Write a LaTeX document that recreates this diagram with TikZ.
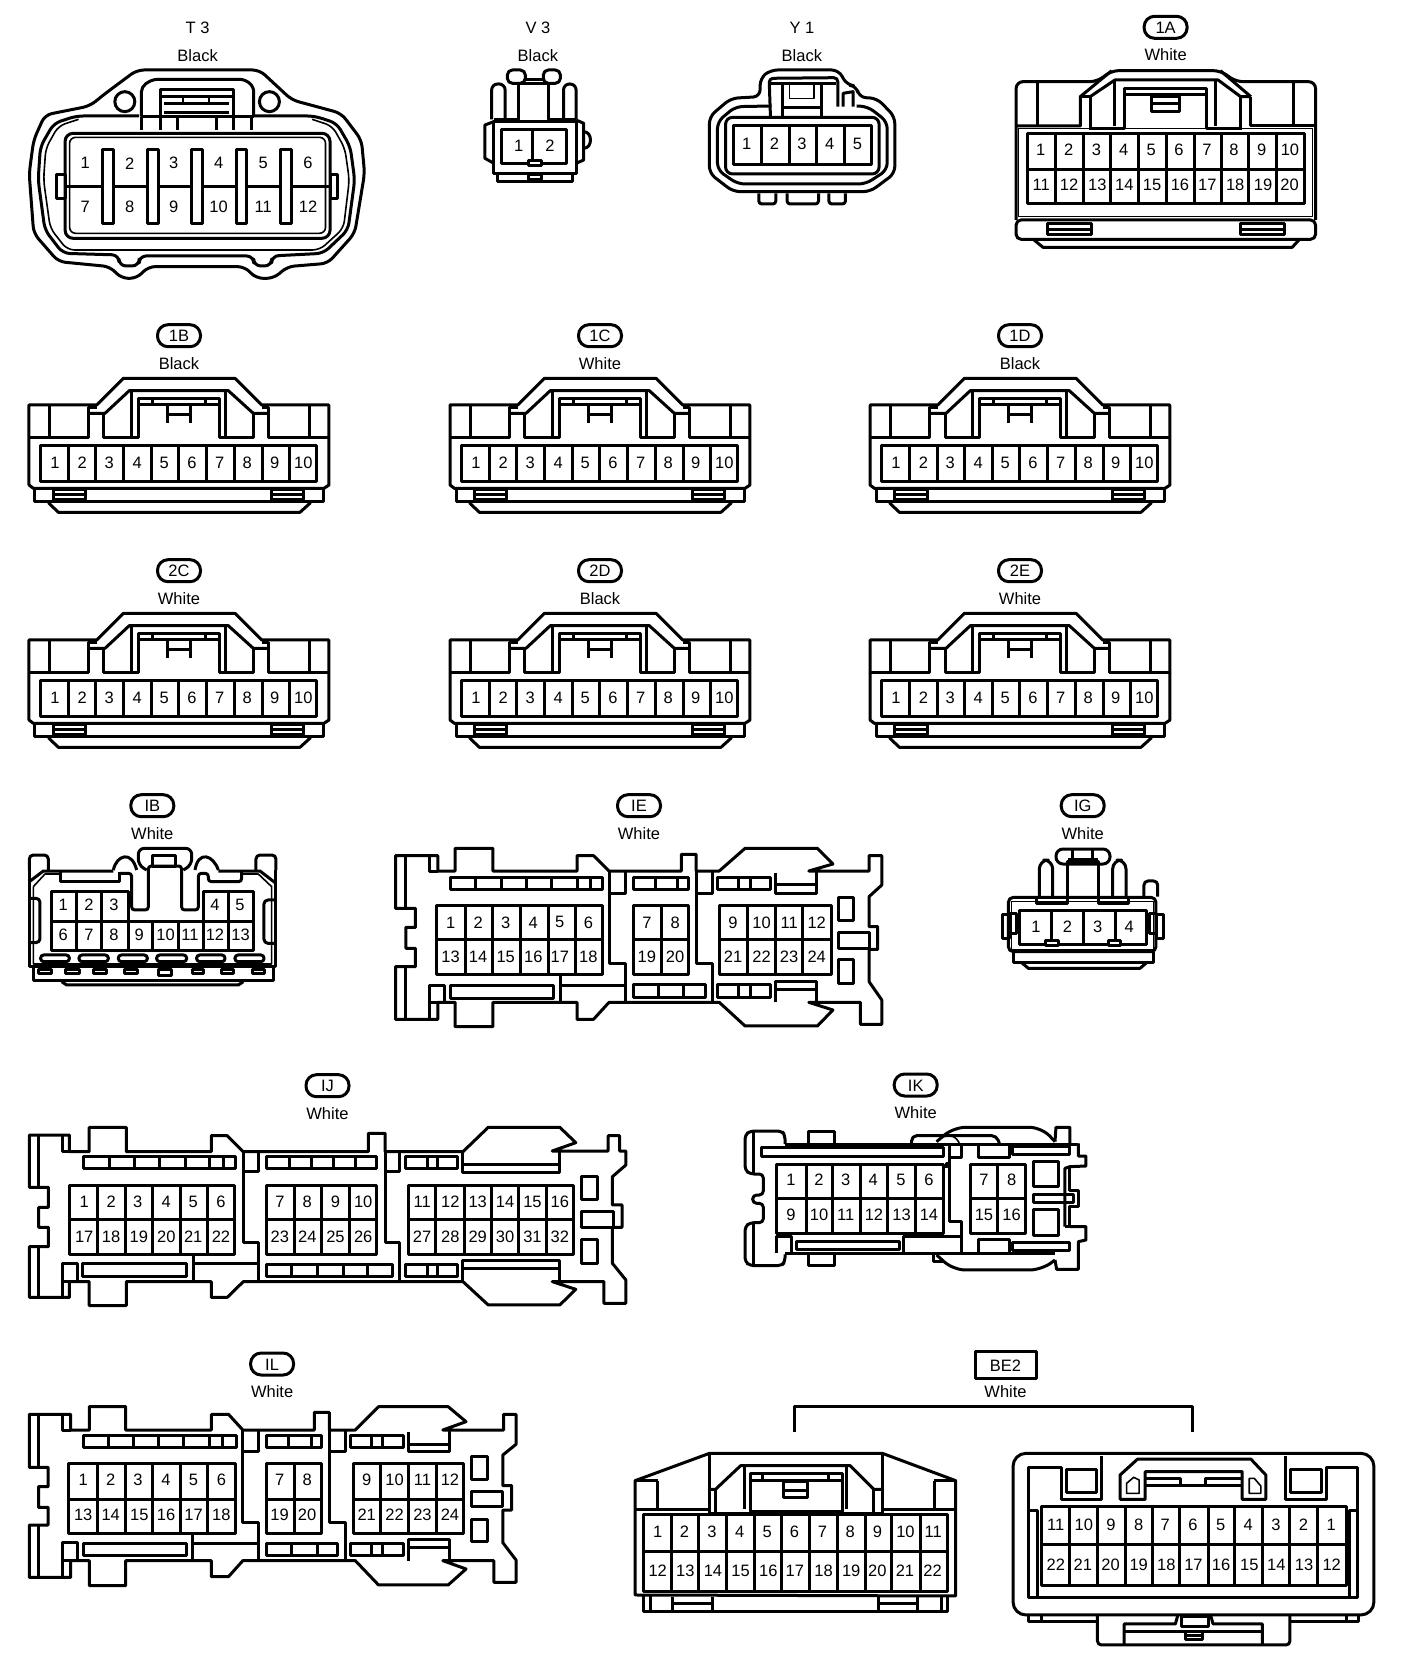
\documentclass[tikz,border=0pt]{standalone}
\usepackage{fontspec}
\setmainfont{Liberation Sans}
\usetikzlibrary{positioning}
\tikzset{
	zoomed/.style n args={3}{shift={(#1,#2)},x=#3,y=-0.3333pt},
	thinline/.style={line width=1.6pt},
	pinnum/.style={font=\fontsize{16.5}{18}\selectfont,inner sep=0pt},
	plainlabel/.style={font=\fontsize{16.5}{18}\selectfont,inner sep=0pt,outer sep=0pt,text height=12pt,text depth=0pt},
	pill/.style={draw,plainlabel,rounded corners=10.5pt,minimum width=43pt,minimum height=22pt},
	boxlabel/.style={draw,plainlabel,minimum width=61pt,minimum height=27pt},
}
\newcommand{\pinrow}[4]{\foreach \px [count=\k from #3] in {#4} \node[pinnum] (#1-\k) at (\px,#2) {\k};}
\newcommand{\cellbox}[5]{\draw (#1,#2) rectangle (#3,#4); \foreach \dv in {#5} \draw (\dv,#2) -- (\dv,#4);}
\newcommand{\pilllabel}[5]{\node[pill] (#1) at (#2,#3) {#4}; \node[plainlabel,below=10.6pt of #1] (#1-col) {#5};}
\newcommand{\textlabel}[5]{\node[plainlabel] (#1) at (#2,#3) {#4}; \node[plainlabel,below=15.6pt of #1] (#1-col) {#5};}
\newcommand{\tenpin}[5]{
	\pilllabel{#3}{#1+179}{#2+335.7}{#4}{#5}
	\begin{scope}[zoomed={#1}{#2+320}{0.3333pt}]
		\draw (87,255) -- (290,255) -- (370,175) -- (705,175) -- (785,255) -- (987,255) -- (987,495) -- (972,505) -- (100,505) -- (87,495) -- cycle;
		\draw (105,505) -- (105,545) -- (970,545) -- (970,505);
		\draw (145,548) -- (175,577) -- (900,577) -- (932,548);
		\cellbox{160}{510}{258}{540}{160}
		\draw (160,525) -- (258,525);
		\cellbox{815}{510}{912}{540}{815}
		\draw (815,525) -- (912,525);
		\draw (87,352) -- (265,352) -- (265,262) -- (290,262);
		\draw (148,258) -- (148,352);
		\draw (268,280) -- (315,280) -- (388,212) -- (685,212) -- (760,280) -- (805,280);
		\draw (312,280) -- (312,352) -- (415,352) -- (415,235) -- (660,235) -- (660,352) -- (760,352) -- (760,280);
		\draw (395,212) -- (395,352);
		\draw (678,212) -- (678,352);
		\draw (415,253) -- (660,253);
		\draw (458,235) -- (458,253);
		\draw (618,235) -- (618,253);
		\draw (502,308) -- (502,255);
		\draw (572,308) -- (572,255);
		\draw (502,285) -- (572,285);
		\draw (785,262) -- (805,262) -- (805,352) -- (987,352);
		\draw (928,258) -- (928,352);
		\cellbox{122}{378}{950}{485}{205,288,370,455,537,620,703,787,870}
		\pinrow{#3}{428}{1}{165,247,328,412,493,576,659,742,824,910}
	\end{scope}
}
\begin{document}
\begin{tikzpicture}[x=1pt,y=-1pt,line width=3pt,line join=round]
	\useasboundingbox (0,0) rectangle (1408,1680);

	\textlabel{T3}{197.6}{28}{T 3}{Black}
	\textlabel{V3}{537.9}{28}{V 3}{Black}
	\textlabel{Y1}{801.9}{28}{Y 1}{Black}
	\pilllabel{1A}{1165.6}{27.3}{1A}{White}

	\begin{scope}[zoomed={0}{0}{0.449pt}]
		\draw[rounded corners=7pt] (305,210) -- (578,210) -- (650,300) -- (700,318) -- (760,340) -- (805,420) -- (812,520) -- (790,700) -- (730,790) -- (640,800) -- (610,835) -- (570,835) -- (545,800) -- (330,800) -- (305,835) -- (270,835) -- (245,800) -- (130,785) -- (75,700) -- (65,520) -- (75,420) -- (100,345) -- (200,318) -- (235,280) -- cycle;
		\draw[rounded corners=7pt] (310,348) -- (170,348) -- (120,370) -- (90,440) -- (85,540) -- (100,690) -- (140,760) -- (265,765) -- (265,798) -- (310,798) -- (310,768) -- (565,768) -- (565,798) -- (605,798) -- (605,768) -- (720,760) -- (775,690) -- (790,540) -- (780,440) -- (750,370) -- (700,348) -- (562,348);
		\draw[thinline,rounded corners=7pt] (175,358) -- (130,378) -- (102,445) -- (97,540) -- (112,685) -- (150,750) -- (712,750) -- (765,685) -- (778,540) -- (768,445) -- (740,378) -- (695,358);
		\draw[rounded corners=8pt] (145,400) rectangle (735,715);
		\draw[thinline,rounded corners=6pt] (155,412) rectangle (725,700);
		\draw (148,560) -- (735,560);
		\foreach \bx in {240,340,438,538,637} \draw[fill=white] (\bx-12,448) rectangle (\bx+12,672);
		\draw (125,525) rectangle (145,595);
		\draw (735,525) rectangle (752,595);
		\draw (278,305) circle[radius=10pt];
		\draw (600,305) circle[radius=10pt];
		\draw[rounded corners=5pt] (315,350) -- (315,260) -- (340,238) -- (545,238) -- (565,260) -- (565,350);
		\draw (358,350) -- (358,268) -- (520,268) -- (520,350);
		\draw (358,290) -- (520,290);
		\draw (365,312) -- (510,312);
		\draw (365,338) -- (510,338);
		\draw[thinline] (408,292) -- (408,310);
		\draw[thinline] (465,292) -- (465,310);
		\draw (315,350) -- (565,350);
		\foreach \bx in {315,358,395,482,520,560} \draw (\bx,350) -- (\bx,390);
		\pinrow{t3}{490}{1}{190,289,387,487,586,686}
		\pinrow{t3}{620}{7}{190,289,387,487,586,686}

		\draw (1100,365) rectangle (1283,520);
		\cellbox{1117}{390}{1262}{492}{1187}
		\draw (1100,365) -- (1080,375) -- (1080,475) -- (1100,490);
		\draw (1283,360) -- (1300,370) -- (1300,480) -- (1283,490);
		\draw (1300,395) .. controls (1320,395) and (1320,445) .. (1300,445);
		\draw[fill=white] (1178,482) rectangle (1205,498);
		\draw (1108,520) -- (1108,545) -- (1275,545) -- (1275,520);
		\draw (1178,525) rectangle (1205,540);
		\draw[rounded corners=6pt] (1095,358) -- (1095,252) -- (1125,252) -- (1125,358);
		\draw[rounded corners=6pt] (1255,358) -- (1255,252) -- (1283,252) -- (1283,358);
		\draw (1100,360) -- (1155,360) -- (1155,250) -- (1222,250) -- (1222,360) -- (1283,360);
		\draw[rounded corners=5pt] (1130,210) rectangle (1170,250);
		\draw[rounded corners=5pt] (1210,210) rectangle (1248,250);
		\draw (1170,240) -- (1210,240);
		\pinrow{v3}{438}{1}{1155,1225}
	\end{scope}

	\begin{scope}[zoomed={704}{0}{0.449pt}]
		\draw[rounded corners=7pt] (125,290) -- (125,235) -- (148,210) -- (300,210) -- (318,255) -- (340,258) -- (345,292) -- (385,295) -- (425,350) -- (425,520) -- (370,575) -- (65,575) -- (12,520) -- (12,350) -- (60,295) -- cycle;
		\draw[rounded corners=7pt] (150,318) -- (70,320) -- (30,365) -- (30,510) -- (75,552) -- (360,552) -- (408,510) -- (408,365) -- (365,320) -- (340,318);
		\draw[rounded corners=7pt] (48,352) rectangle (390,522);
		\cellbox{65}{378}{372}{495}{128,190,250,312}
		\draw[rounded corners=4pt] (148,350) -- (145,235) -- (298,233) -- (298,320);
		\draw (150,252) -- (295,252);
		\draw (175,252) -- (175,350);
		\draw (262,252) -- (262,350);
		\draw[thinline] (190,255) -- (190,295) -- (245,295) -- (245,255);
		\draw (175,322) -- (262,322);
		\draw (310,320) -- (310,280) -- (332,275) -- (332,320);
		\draw[rounded corners=3pt] (122,580) -- (122,612) -- (160,612) -- (160,580);
		\draw[rounded corners=3pt] (185,580) -- (185,612) -- (255,612) -- (255,580);
		\draw[rounded corners=3pt] (278,580) -- (278,612) -- (315,612) -- (315,580);
		\pinrow{y1}{432}{1}{95,157,218,280,342}

		\draw[rounded corners=7pt] (695,660) -- (695,245) -- (875,245) -- (908,212) -- (1150,212) -- (1185,245) -- (1362,245) -- (1362,660);
		\draw[rounded corners=5pt] (695,660) rectangle (1362,718);
		\draw[thinline] (700,385) rectangle (1355,650);
		\draw (695,378) -- (838,378) -- (838,290) -- (908,212);
		\draw (860,390) -- (860,290) -- (838,290);
		\draw (860,290) -- (915,240) -- (1145,240) -- (1195,290) -- (1218,290);
		\draw (1195,290) -- (1195,390);
		\draw (1218,290) -- (1150,212);
		\draw (1218,290) -- (1218,378) -- (1362,378);
		\draw (862,385) -- (937,385) -- (937,265) -- (1120,265) -- (1120,385) -- (1195,385);
		\draw (915,240) -- (915,378);
		\draw (1140,240) -- (1140,378);
		\draw (937,285) -- (1120,285);
		\draw[fill=white] (997,290) rectangle (1060,335);
		\draw (997,312) -- (1060,312);
		\draw (742,250) -- (742,375);
		\draw (1313,250) -- (1313,375);
		\cellbox{720}{400}{1337}{612}{783,845,905,968,1030,1092,1152,1213,1275}
		\draw (720,508) -- (1337,508);
		\pinrow{1a}{450}{1}{750,812,874,935,996,1058,1120,1180,1242,1305}
		\pinrow{1a}{555}{11}{751,813,876,936,998,1060,1121,1183,1245,1304}
		\draw (765,670) rectangle (862,705);
		\draw (765,690) -- (862,690);
		\draw (1195,670) rectangle (1292,705);
		\draw (1195,690) -- (1292,690);
		\draw (735,720) -- (755,742) -- (1310,742) -- (1325,720);
	\end{scope}

	\tenpin{0}{0}{1B}{1B}{Black}
	\tenpin{421}{0}{1C}{1C}{White}
	\tenpin{841}{0}{1D}{1D}{Black}
	\tenpin{0}{235}{2C}{2C}{White}
	\tenpin{421}{235}{2D}{2D}{Black}
	\tenpin{841}{235}{2E}{2E}{White}

	\pilllabel{IB}{152.3}{805.7}{IB}{White}
	\begin{scope}[zoomed={0}{790}{0.3333pt}]
		\draw[rounded corners=4pt] (88,240) -- (88,195) -- (145,195) -- (145,240);
		\draw[rounded corners=4pt] (768,240) -- (768,195) -- (828,195) -- (828,240);
		\draw (88,240) -- (88,530) -- (828,530) -- (828,240);
		\draw (88,275) -- (130,243) -- (340,243);
		\draw (655,243) -- (780,243) -- (828,280);
		\draw[thinline] (100,290) -- (135,252) -- (182,252);
		\draw[thinline] (725,252) -- (775,252) -- (815,290) -- (815,522) -- (100,522) -- (100,290);
		\draw (182,245) -- (182,275) -- (360,275) -- (360,245);
		\draw[rounded corners=3pt] (360,250) -- (395,250) -- (395,360) -- (445,360) -- (445,228) -- (545,228) -- (545,360) -- (595,360) -- (595,250) -- (625,250) -- (625,275) -- (725,275) -- (725,245);
		\draw[rounded corners=6pt] (440,240) -- (415,225) -- (415,175) -- (575,175) -- (575,225) -- (550,240);
		\draw (458,195) rectangle (528,228);
		\draw (340,240) .. controls (350,195) and (395,180) .. (410,240);
		\draw (585,240) .. controls (595,180) and (640,195) .. (655,240);
		\cellbox{155}{305}{385}{395}{230,305}
		\cellbox{610}{305}{760}{395}{685}
		\cellbox{155}{395}{760}{482}{230,305,385,458,535,610,685}
		\pinrow{ib}{345}{1}{190,267,342}
		\pinrow{ib}{345}{4}{645,720}
		\pinrow{ib}{435}{6}{190,267,342,418,497,570,645,722}
		\draw[rounded corners=4pt] (88,325) -- (120,325) -- (120,458) -- (88,458);
		\draw[rounded corners=4pt] (828,330) -- (792,330) -- (792,460) -- (828,460);
		\foreach \sa/\sb in {122/208,237/325,355/442,470/560,590/675,705/792} \draw[rounded corners=3pt] (\sa,495) rectangle (\sb,515);
		\foreach \ta/\tb in {115/155,198/238,280/320,373/413,578/612,665/700,757/795} \draw (\ta,540) rectangle (\tb,552);
		\draw (475,540) rectangle (515,558);
		\draw (100,530) -- (100,572) -- (820,572) -- (820,530);
		\draw (185,575) -- (200,585) -- (715,585) -- (730,575);
	\end{scope}

	\pilllabel{IE}{639}{805.7}{IE}{White}
	\begin{scope}[zoomed={380}{790}{0.3444pt}]
		\draw (45,197) -- (168,197) -- (168,243) -- (218,243) -- (218,175) -- (328,175) -- (328,243) -- (572,243) -- (572,197) -- (620,197) -- (665,243) -- (875,243) -- (875,193) -- (918,193) -- (918,243) -- (985,243) -- (1060,175) -- (1270,175) -- (1315,222) -- (1245,243) -- (1420,243) -- (1420,197) -- (1457,197) -- (1457,285) -- (1420,320) -- (1420,410) -- (1445,410) -- (1445,478) -- (1420,478) -- (1420,575) -- (1457,630) -- (1457,703) -- (1395,703) -- (1395,637) -- (1245,637) -- (1315,660) -- (1270,708) -- (1060,708) -- (985,637) -- (665,637) -- (620,688) -- (572,688) -- (572,637) -- (328,637) -- (328,710) -- (218,710) -- (218,637) -- (168,637) -- (168,688) -- (45,688) -- (45,530) -- (103,530) -- (103,475) -- (75,475) -- (75,412) -- (103,412) -- (103,355) -- (45,355) -- cycle;
		\draw (75,197) -- (75,355);
		\draw (75,530) -- (75,688);
		\draw (145,197) -- (145,243) -- (168,243);
		\draw (145,688) -- (145,588) -- (188,588) -- (188,637) -- (145,637);
		\cellbox{205}{262}{645}{298}{278,352,425,498,572,610}
		\draw (205,588) rectangle (503,625);
		\cellbox{165}{348}{645}{555}{247,327,408,488,567}
		\draw (165,450) -- (645,450);
		\pinrow{ie}{397}{1}{205,285,365,445,522,605}
		\pinrow{ie}{500}{13}{205,285,365,445,522,605}
		\draw (665,243) -- (665,520) -- (712,520) -- (712,637);
		\draw (712,243) -- (712,310) -- (665,310);
		\cellbox{735}{262}{895}{298}{800,865}
		\cellbox{735}{348}{895}{555}{818}
		\draw (735,450) -- (895,450);
		\pinrow{ie}{397}{7}{775,857}
		\pinrow{ie}{500}{19}{775,857}
		\draw (918,243) -- (918,520) -- (965,520) -- (965,637);
		\draw (965,243) -- (965,310) -- (918,310);
		\draw (525,555) -- (525,637);
		\draw (525,588) -- (712,588);
		\cellbox{735}{585}{945}{622}{808,882}
		\cellbox{980}{262}{1135}{298}{1042,1075}
		\cellbox{980}{585}{1135}{622}{1042,1075}
		\draw (1148,250) -- (1148,310) -- (1268,310) -- (1268,243);
		\draw (1148,285) -- (1268,285);
		\draw (1148,637) -- (1148,575) -- (1268,575) -- (1268,637);
		\draw (1148,598) -- (1268,598);
		\cellbox{985}{348}{1310}{555}{1068,1148,1228}
		\draw (985,450) -- (1310,450);
		\pinrow{ie}{397}{9}{1025,1108,1188,1268}
		\pinrow{ie}{500}{21}{1025,1108,1188,1268}
		\draw (1330,322) rectangle (1375,392);
		\draw (1330,428) rectangle (1422,475);
		\draw (1330,510) rectangle (1375,580);
	\end{scope}

	\pilllabel{IG}{1082.7}{805.7}{IG}{White}
	\begin{scope}[zoomed={980}{790}{0.3333pt}]
		\draw[rounded corners=5pt] (85,322) rectangle (528,485);
		\draw[thinline] (95,335) rectangle (520,480);
		\cellbox{118}{362}{500}{465}{215,310,405}
		\pinrow{ig}{410}{1}{168,262,353,448}
		\draw (68,375) rectangle (88,445);
		\draw (88,370) rectangle (108,430);
		\draw (508,370) rectangle (530,430);
		\draw (530,375) rectangle (550,445);
		\draw (100,485) -- (100,518) -- (520,518) -- (520,485);
		\draw (125,518) -- (145,535) -- (480,535) -- (500,518);
		\draw[fill=white] (195,452) rectangle (235,468);
		\draw[fill=white] (385,452) rectangle (420,468);
		\draw[rounded corners=9pt] (178,320) -- (178,210) -- (218,210) -- (218,320);
		\draw[rounded corners=9pt] (398,320) -- (398,210) -- (438,210) -- (438,320);
		\draw[rounded corners=4pt] (492,320) -- (492,273) -- (533,273) -- (533,320);
		\draw (170,322) -- (170,340) -- (262,340) -- (262,215) -- (355,215) -- (355,340) -- (445,340) -- (445,322);
		\draw[rounded corners=7pt] (228,177) rectangle (390,222);
		\draw (278,177) -- (278,207);
		\draw (338,177) -- (338,207);
		\draw (265,207) -- (355,207);
	\end{scope}

	\pilllabel{IJ}{327.5}{1085.7}{IJ}{White}
	\begin{scope}[zoomed={0}{1070}{0.4209pt}]
		\draw (70,195) -- (165,195) -- (165,245) -- (212,245) -- (212,172) -- (300,172) -- (300,245) -- (502,245) -- (502,197) -- (540,197) -- (578,245) -- (875,245) -- (875,190) -- (915,190) -- (915,245) -- (1100,245) -- (1160,172) -- (1330,172) -- (1368,218) -- (1312,243) -- (1445,243) -- (1445,197) -- (1472,197) -- (1472,243) -- (1487,243) -- (1487,285) -- (1455,320) -- (1455,405) -- (1478,405) -- (1478,472) -- (1455,472) -- (1455,580) -- (1487,630) -- (1487,700) -- (1435,700) -- (1435,635) -- (1312,635) -- (1368,658) -- (1330,705) -- (1160,705) -- (1100,635) -- (578,635) -- (540,682) -- (502,682) -- (502,635) -- (300,635) -- (300,707) -- (212,707) -- (212,635) -- (165,635) -- (165,682) -- (70,682) -- (70,530) -- (115,530) -- (115,472) -- (92,472) -- (92,412) -- (115,412) -- (115,352) -- (70,352) -- cycle;
		\draw (92,197) -- (92,352);
		\draw (92,530) -- (92,682);
		\draw (148,197) -- (148,245) -- (165,245);
		\draw (148,682) -- (148,582) -- (185,582) -- (185,635) -- (148,635);
		\cellbox{198}{260}{560}{295}{260,320,380,440,498,530}
		\draw (197,582) rectangle (442,620);
		\cellbox{165}{345}{558}{555}{232,298,362,428,493}
		\draw (165,448) -- (558,448);
		\pinrow{ij}{395}{1}{200,264,327,395,459,525}
		\pinrow{ij}{500}{17}{200,264,330,395,459,525}
		\draw (578,245) -- (578,518) -- (615,518) -- (615,635);
		\draw (615,245) -- (615,305) -- (578,305);
		\draw (460,555) -- (460,635);
		\draw (460,582) -- (615,582);
		\cellbox{633}{260}{895}{295}{688,740,792,845}
		\cellbox{633}{345}{895}{555}{700,765,830}
		\draw (633,448) -- (895,448);
		\pinrow{ij}{395}{7}{665,730,797,863}
		\pinrow{ij}{500}{23}{665,730,797,863}
		\draw (915,245) -- (915,518) -- (950,518) -- (950,635);
		\draw (950,245) -- (950,305) -- (915,305);
		\cellbox{633}{585}{933}{620}{693,755,815,873}
		\cellbox{963}{260}{1088}{295}{1015,1040}
		\cellbox{963}{585}{1088}{620}{1015,1040}
		\draw (1100,245) -- (1100,307) -- (1330,307) -- (1330,243);
		\draw (1100,283) -- (1330,283);
		\draw (1100,635) -- (1100,572) -- (1330,572) -- (1330,635);
		\draw (1100,597) -- (1330,597);
		\cellbox{970}{345}{1363}{555}{1035,1103,1168,1232,1298}
		\draw (970,448) -- (1363,448);
		\pinrow{ij}{395}{11}{1003,1070,1135,1200,1265,1330}
		\pinrow{ij}{500}{27}{1003,1070,1135,1200,1265,1330}
		\draw (1382,320) rectangle (1420,388);
		\draw (1382,425) rectangle (1457,472);
		\draw (1382,508) rectangle (1420,580);
	\end{scope}

	\pilllabel{IK}{915.7}{1085}{IK}{White}
	\begin{scope}[zoomed={730}{1070}{0.3333pt}]
		\draw[rounded corners=4pt] (165,222) -- (165,195) -- (155,183) -- (60,183) -- (45,195) -- (45,300) -- (60,312) -- (100,312) -- (100,375) -- (68,375) -- (68,400) -- (100,400) -- (100,458) -- (60,458) -- (45,470) -- (45,575) -- (60,587) -- (155,587) -- (165,575) -- (165,553);
		\draw (70,185) -- (70,310);
		\draw (70,460) -- (70,585);
		\draw (165,222) -- (1045,222);
		\draw (165,550) -- (975,550);
		\draw (235,220) -- (235,185) -- (312,185) -- (312,220);
		\draw (235,553) -- (235,587) -- (312,587) -- (312,553);
		\draw[rounded corners=5pt] (545,220) -- (545,197) -- (800,197) -- (808,220);
		\draw[rounded corners=12pt] (620,215) -- (670,172) -- (935,172) -- (975,215);
		\draw (975,215) -- (978,172) -- (1020,172) -- (1020,222);
		\draw (1045,220) -- (1045,258) -- (1068,258) -- (1068,288) -- (1020,290) -- (1005,295) -- (1005,470);
		\draw (1020,290) -- (1020,360) -- (1045,360) -- (1045,410) -- (1020,410) -- (1020,470) -- (1005,470);
		\draw (1020,470) -- (1068,470) -- (1068,510) -- (1045,515) -- (1045,598) -- (980,598) -- (975,570);
		\draw[rounded corners=12pt] (975,570) -- (935,600) -- (670,600) -- (620,555);
		\draw (610,553) -- (610,575) -- (640,575);
		\draw[thinline] (620,215) .. controls (650,185) and (680,195) .. (690,225);
		\draw (93,232) rectangle (640,258);
		\draw (200,515) rectangle (510,540);
		\draw (140,550) -- (140,500) -- (185,500) -- (185,550);
		\cellbox{140}{282}{640}{490}{228,308,392,473,558}
		\draw (140,385) -- (640,385);
		\pinrow{ik}{330}{1}{183,267,347,430,513,597}
		\pinrow{ik}{435}{9}{183,267,347,432,515,597}
		\draw (660,225) -- (660,455) -- (695,455) -- (695,548);
		\draw (695,225) -- (695,262) -- (660,262);
		\draw (650,295) -- (650,280) -- (660,280);
		\draw (522,550) -- (522,500) -- (695,500);
		\draw (745,225) -- (745,262) -- (838,262) -- (838,225);
		\draw (745,550) -- (745,510) -- (838,510) -- (838,550);
		\cellbox{722}{282}{888}{490}{803}
		\draw (722,385) -- (888,385);
		\pinrow{ik}{330}{7}{762,845}
		\pinrow{ik}{435}{15}{762,845}
		\draw (848,230) rectangle (1020,252);
		\draw (848,518) rectangle (1020,542);
		\draw (910,275) rectangle (985,350);
		\draw (910,420) rectangle (985,497);
		\draw (910,372) rectangle (1030,398);
	\end{scope}

	\pilllabel{IL}{272.1}{1364}{IL}{White}
	\begin{scope}[zoomed={0}{1350}{0.3571pt}]
		\draw (82,193) -- (198,193) -- (198,240) -- (250,240) -- (250,170) -- (352,170) -- (352,240) -- (592,240) -- (592,193) -- (640,193) -- (680,240) -- (880,240) -- (880,187) -- (922,187) -- (922,240) -- (995,240) -- (1060,170) -- (1255,170) -- (1305,215) -- (1240,240) -- (1410,240) -- (1410,193) -- (1445,193) -- (1445,283) -- (1408,315) -- (1408,407) -- (1433,407) -- (1433,480) -- (1408,480) -- (1408,578) -- (1445,630) -- (1445,697) -- (1383,697) -- (1383,632) -- (1240,632) -- (1305,657) -- (1255,705) -- (1060,705) -- (995,632) -- (680,632) -- (640,680) -- (592,680) -- (592,632) -- (352,632) -- (352,707) -- (250,707) -- (250,632) -- (198,632) -- (198,682) -- (82,682) -- (82,525) -- (135,525) -- (135,472) -- (108,472) -- (108,410) -- (135,410) -- (135,352) -- (82,352) -- cycle;
		\draw (108,193) -- (108,352);
		\draw (108,525) -- (108,682);
		\draw (175,193) -- (175,240) -- (198,240);
		\draw (175,682) -- (175,578) -- (218,578) -- (218,632) -- (175,632);
		\cellbox{233}{257}{662}{293}{305,375,445,515,588,623}
		\draw (233,580) rectangle (522,617);
		\cellbox{193}{340}{660}{552}{272,352,427,505,582}
		\draw (193,447) -- (660,447);
		\pinrow{il}{390}{1}{233,310,386,465,542,620}
		\pinrow{il}{495}{13}{233,310,390,465,542,620}
		\draw (680,240) -- (680,518) -- (725,518) -- (725,632);
		\draw (725,240) -- (725,303) -- (680,303);
		\draw (540,552) -- (540,632);
		\draw (540,580) -- (725,580);
		\cellbox{745}{257}{900}{293}{808,872}
		\cellbox{745}{340}{900}{552}{825}
		\draw (745,447) -- (900,447);
		\pinrow{il}{390}{7}{783,860}
		\pinrow{il}{495}{19}{783,860}
		\draw (922,240) -- (922,518) -- (968,518) -- (968,632);
		\draw (968,240) -- (968,303) -- (922,303);
		\cellbox{745}{580}{945}{617}{815,888}
		\cellbox{982}{257}{1130}{293}{1040,1070}
		\cellbox{982}{580}{1130}{617}{1040,1070}
		\draw (1145,245) -- (1145,303) -- (1258,303) -- (1258,240);
		\draw (1145,283) -- (1258,283);
		\draw (1145,632) -- (1145,570) -- (1258,570) -- (1258,632);
		\draw (1145,592) -- (1258,592);
		\cellbox{990}{340}{1298}{552}{1065,1145,1222}
		\draw (990,447) -- (1298,447);
		\pinrow{il}{390}{9}{1027,1105,1183,1260}
		\pinrow{il}{495}{21}{1027,1105,1183,1260}
		\draw (1320,318) rectangle (1365,387);
		\draw (1320,425) rectangle (1408,468);
		\draw (1320,507) rectangle (1365,575);
	\end{scope}

	\node[boxlabel] (BE2) at (1005.5,1365) {BE2};
	\node[plainlabel,below=6.7pt of BE2] (BE2-col) {White};
	\begin{scope}[zoomed={620}{1350}{0.5026pt}]
		\coordinate (brL) at (348,245);
		\coordinate (brR) at (1140,245);
		\draw (brL) |- (744,170) -| (brR);

		\draw (30,735) -- (30,392) -- (178,310) -- (522,310) -- (668,392) -- (668,738) -- cycle;
		\draw (47,738) -- (47,785) -- (652,785) -- (652,738);
		\draw (60,738) -- (60,785);
		\draw (640,738) -- (640,785);
		\draw (105,740) -- (105,785);
		\draw (185,740) -- (185,785);
		\draw (105,762) -- (185,762);
		\draw (515,740) -- (515,785);
		\draw (592,740) -- (592,785);
		\draw (515,762) -- (592,762);
		\draw (178,312) -- (178,490);
		\draw (522,312) -- (522,490);
		\draw (30,478) -- (178,478);
		\draw (75,392) -- (75,478);
		\draw (30,392) -- (75,392);
		\draw (625,392) -- (668,392);
		\draw (625,392) -- (625,478);
		\draw (522,478) -- (668,478);
		\draw (178,418) -- (190,418) -- (240,347) -- (458,347) -- (505,418) -- (522,418);
		\draw (178,490) -- (260,490);
		\draw (190,418) -- (190,490);
		\draw (505,418) -- (505,490);
		\draw (442,490) -- (522,490);
		\draw (260,485) -- (260,370) -- (442,370) -- (442,485) -- cycle;
		\draw (260,392) -- (442,392);
		\draw (283,370) -- (283,392);
		\draw (415,370) -- (415,392);
		\draw (247,347) -- (247,478);
		\draw (450,347) -- (450,478);
		\draw (325,395) rectangle (373,442);
		\draw (325,420) -- (373,420);
		\cellbox{47}{492}{652}{725}{103,157,212,267,322,378,432,488,540,597}
		\draw (47,605) -- (652,605);
		\pinrow{be2a}{545}{1}{75,128,183,238,293,347,403,458,512,568,623}
		\pinrow{be2a}{662}{12}{75,130,185,240,295,348,405,460,512,567,622}

		\draw[rounded corners=13pt] (782,310) rectangle (1500,795);
		\draw (958,318) -- (958,448) -- (878,448) -- (878,352) -- (812,352) -- (812,743) -- (1468,743) -- (1468,352) -- (1405,352) -- (1405,448) -- (1325,448) -- (1325,318);
		\draw (888,358) rectangle (948,428);
		\draw (1335,358) rectangle (1395,428);
		\draw (1045,448) -- (995,448) -- (995,375) -- (1030,327) -- (1255,327) -- (1285,375) -- (1285,448) -- (1238,448) -- (1238,365) -- (1045,365) -- cycle;
		\draw[thinline] (1008,430) -- (1008,400) -- (1022,382) -- (1033,390) -- (1033,430) -- cycle;
		\draw[thinline] (1252,430) -- (1252,385) -- (1262,385) -- (1275,408) -- (1275,430) -- cycle;
		\draw (1045,385) -- (1115,385) -- (1115,405);
		\draw (1045,405) -- (1238,405);
		\draw (1238,385) -- (1165,385) -- (1165,405);
		\cellbox{838}{468}{1445}{707}{895,950,1005,1060,1113,1170,1223,1278,1333,1388}
		\draw (838,585) -- (1445,585);
		\foreach \px/\k in {867/11,923/10,977/9,1032/8,1085/7,1140/6,1195/5,1250/4,1305/3,1360/2,1415/1} \node[pinnum] (be2b-\k) at (\px,525) {\k};
		\foreach \px/\k in {867/22,921/21,976/20,1032/19,1087/18,1141/17,1196/16,1252/15,1306/14,1361/13,1416/12} \node[pinnum] (be2b-\k) at (\px,645) {\k};
		\draw (812,480) -- (830,480) -- (830,743);
		\draw (1468,480) -- (1452,480) -- (1452,743);
		\draw (812,795) -- (812,815) -- (950,815);
		\draw (838,795) -- (838,812);
		\draw (1333,815) -- (1470,815) -- (1470,795);
		\draw (1445,795) -- (1445,812);
		\draw[rounded corners=4pt] (950,795) -- (950,885) -- (1333,885) -- (1333,795);
		\draw (1003,885) -- (1003,822) -- (1105,822) -- (1110,795);
		\draw (1278,885) -- (1278,822) -- (1180,822) -- (1175,795);
		\draw (1003,845) -- (1278,845);
		\draw[fill=white] (1118,800) rectangle (1170,830);
		\draw[fill=white] (1125,845) rectangle (1158,870);
		\draw (1125,858) -- (1158,858);
	\end{scope}
\end{tikzpicture}
\end{document}
